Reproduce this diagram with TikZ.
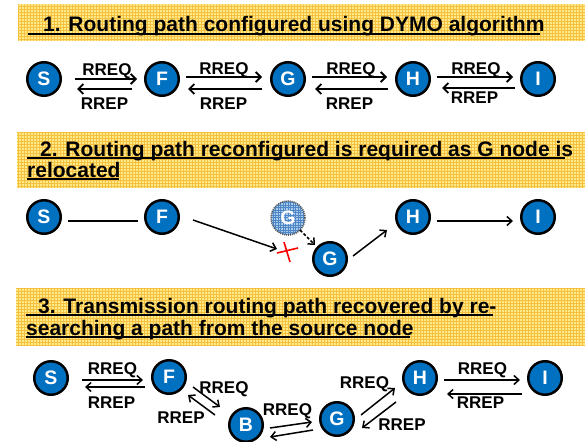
\documentclass[tikz,border=0pt]{standalone}
\usepackage{fontspec}
\setmainfont{Liberation Sans}
\usetikzlibrary{arrows.meta,calc}
\definecolor{nodeblue}{HTML}{0070C0}
\definecolor{bannerbg}{HTML}{FFEA8A}
\definecolor{bannerline}{HTML}{F5C040}
\definecolor{ghostbg}{HTML}{A9CBEB}
\definecolor{ghostline}{HTML}{4F86C6}
\definecolor{crossred}{HTML}{FF0000}
\begin{document}
\begin{tikzpicture}[x=1pt,y=-1pt,
  nd/.style={circle,draw=black,line width=2.5pt,fill=nodeblue,minimum size=33.5pt,inner sep=0pt,text=white,font=\fontsize{19.5}{19.5}\selectfont\bfseries},
  ghost/.style={circle,fill=ghostbg,minimum size=34pt,inner sep=0pt,text=white,font=\fontsize{19.5}{19.5}\selectfont\bfseries,
    path picture={\draw[ghostline,line width=0.4pt] (path picture bounding box.south west) grid[step=2.5pt] (path picture bounding box.north east);},
    postaction={draw=black!65,line width=1.6pt,dash pattern=on 1pt off 1pt}},
  lbl/.style={font=\fontsize{17}{17}\selectfont\bfseries,inner sep=0pt,anchor=base},
  ttl/.style={font=\fontsize{21}{21}\selectfont\bfseries,inner sep=0pt,anchor=base west},
  arr/.style={line width=1.8pt,-{Straight Barb[length=5pt,width=10pt]}},
  thinarr/.style={line width=1.5pt,-{Straight Barb[length=5pt,width=9pt]}},
  uline/.style={line width=1.8pt},
  bannerfill/.style={fill=bannerbg},
  bannergrid/.style={draw=bannerline,line width=0.5pt}
]
\useasboundingbox (0,0) rectangle (585,441);

% ---------- Banner 1 ----------
\fill[bannerfill] (18,4) rectangle (585,41);
\begin{scope}
\clip (18,4) rectangle (585,41);
\draw[bannergrid] (18,4) grid[step=3pt] (585,41);
\end{scope}
\node[ttl] (t1) at (43,32) {1. Routing path configured using DYMO algorithm};
\draw[uline] (28,34) -- (540,34);

% ---------- Row 1 ----------
\node[nd] (S1) at (44,79) {S};
\node[nd] (F1) at (162,79) {F};
\node[nd] (G1) at (288,79) {G};
\node[nd] (H1) at (413,79) {H};
\node[nd] (I1) at (538,79) {I};

\draw[arr] ($(S1)+(31,0)$) -- ($(F1)+(-25,0)$);
\draw[arr] ($(F1)+(-30,10)$) -- ($(S1)+(33,10)$);
\draw[arr] ($(F1)+(24,-2)$) -- ($(G1)+(-26,-2)$);
\draw[arr] ($(G1)+(-26,10)$) -- ($(F1)+(26,10)$);
\draw[arr] ($(G1)+(24,-2)$) -- ($(H1)+(-26,-2)$);
\draw[arr] ($(H1)+(-25,10)$) -- ($(G1)+(27,10)$);
\draw[arr] ($(H1)+(24,-2)$) -- ($(I1)+(-25,-2)$);
\draw[arr] ($(I1)+(-23,9)$) -- ($(H1)+(29,9)$);

\node[lbl] (q11) at (107,76) {RREQ};
\node[lbl] (q12) at (224,75) {RREQ};
\node[lbl] (q13) at (351,75) {RREQ};
\node[lbl] (q14) at (476,75) {RREQ};
\node[lbl] (p11) at (104.5,110) {RREP};
\node[lbl] (p12) at (223.5,110) {RREP};
\node[lbl] (p13) at (349.5,110) {RREP};
\node[lbl] (p14) at (474.5,103) {RREP};

% ---------- Banner 2 ----------
\fill[bannerfill] (17,132) rectangle (585,188);
\begin{scope}
\clip (17,132) rectangle (585,188);
\draw[bannergrid] (17,132) grid[step=3pt] (585,188);
\end{scope}
\node[ttl] (t2a) at (40,156) {2. Routing path reconfigured is required as G node is};
\node[ttl] (t2b) at (27,177) {relocated};
\draw[uline] (27,158) -- (565,158);
\draw[uline] (27,179) -- (119,179);

% ---------- Row 2 ----------
\node[nd] (S2) at (44,217) {S};
\node[nd] (F2) at (162,217) {F};
\node[ghost] (Gg) at (288,218) {G};
\node[nd] (G2) at (330,259) {G};
\node[nd] (H2) at (413,217) {H};
\node[nd] (I2) at (538,217) {I};
\coordinate (brk) at (277,249);
\coordinate (xc) at (288,252);

\draw[line width=1.5pt] ($(S2)+(24,4)$) -- ($(F2)+(-24,4)$);
\draw[thinarr] ($(F2)+(31,3)$) -- (brk);
\draw[crossred,line width=1.6pt] ($(xc)+(-11,1)$) -- ($(xc)+(10,-4)$);
\draw[crossred,line width=1.6pt] ($(xc)+(-4,-10)$) -- ($(xc)+(2,10)$);
\draw[thinarr,dash pattern=on 3pt off 2pt] ($(Gg)+(12,12)$) -- ($(G2)+(-15,-14)$);
\draw[thinarr] ($(G2)+(23,-3)$) -- ($(H2)+(-26,13)$);
\draw[thinarr] ($(H2)+(24,4)$) -- ($(I2)+(-25,4)$);

% ---------- Banner 3 ----------
\fill[bannerfill] (16,288) rectangle (585,346);
\begin{scope}
\clip (16,288) rectangle (585,346);
\draw[bannergrid] (16,288) grid[step=3pt] (585,346);
\end{scope}
\node[ttl] (t3a) at (38,313) {3. Transmission routing path recovered by re-};
\node[ttl] (t3b) at (26,335) {searching a path from the source node};
\draw[uline] (26,315) -- (493,315);
\draw[uline] (26,337) -- (410,337);

% ---------- Row 3 ----------
\node[nd] (S3) at (51,378) {S};
\node[nd] (F3) at (169,377) {F};
\node[nd] (B3) at (246,425) {B};
\node[nd] (G3) at (337,419) {G};
\node[nd] (H3) at (420,378) {H};
\node[nd] (I3) at (545,378) {I};

\draw[thinarr] ($(S3)+(31,2)$) -- ($(F3)+(-26,3)$);
\draw[thinarr] ($(F3)+(-24,10)$) -- ($(S3)+(34,9)$);
\draw[thinarr] ($(F3)+(24,10)$) -- ($(B3)+(-26,-18)$);
\draw[thinarr] ($(B3)+(-31,-10)$) -- ($(F3)+(19,18)$);
\draw[thinarr] ($(B3)+(24,3)$) -- ($(G3)+(-25,3)$);
\draw[thinarr] ($(G3)+(-24,11)$) -- ($(B3)+(24,12)$);
\draw[thinarr] ($(G3)+(24,-4)$) -- ($(H3)+(-25,10)$);
\draw[thinarr] ($(H3)+(-24,24)$) -- ($(G3)+(25,9)$);
\draw[thinarr] ($(H3)+(24,2)$) -- ($(I3)+(-25,2)$);
\draw[thinarr] ($(I3)+(-23,16)$) -- ($(H3)+(27,16)$);

\node[lbl] (q31) at (112.5,374) {RREQ};
\node[lbl] (p31) at (111.5,408) {RREP};
\node[lbl] (q32) at (224,393) {RREQ};
\node[lbl] (p32) at (181,423) {RREP};
\node[lbl] (q33) at (287.5,415) {RREQ};
\node[lbl] (q34) at (364.5,388) {RREQ};
\node[lbl] (p34) at (402,430) {RREP};
\node[lbl] (q35) at (482.5,374) {RREQ};
\node[lbl] (p35) at (480.5,408) {RREP};
\end{tikzpicture}
\end{document}
